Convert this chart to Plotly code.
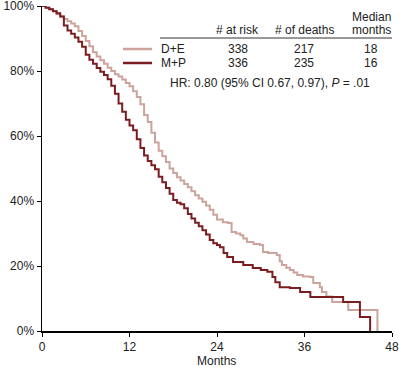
import plotly.graph_objects as go

# Kaplan-Meier style survival estimates
de_months = [0, 0.5, 1.0, 1.5, 2.0, 2.5, 3.0, 3.5, 4.0, 4.5, 5.0, 5.5, 6.0, 6.5, 7.0, 7.5,
             8.0, 8.5, 9.0, 9.5, 10.0, 10.5, 11.0, 11.5, 12.0, 12.5, 13.0, 13.5, 14.0,
             14.5, 15.0, 15.5, 16.0, 16.5, 17.0, 17.5, 18.0, 18.5, 19.0, 19.5, 20.0,
             20.5, 21.0, 21.5, 22.0, 22.5, 23.0, 23.5, 24.0, 24.8, 25.5, 26.0, 26.6,
             27.2, 27.6, 28.1, 29.0, 29.9, 30.3, 31.0, 32.2, 32.6, 32.9, 33.5, 34.0,
             34.5, 35.0, 35.8, 36.8, 37.2, 38.1, 38.4, 39.0, 39.8, 42.0, 46.0]
de_surv = [100, 99.5, 99.0, 98.5, 97.5, 96.8, 96.0, 95.3, 94.6, 93.8, 92.3, 90.8, 89.2,
           87.6, 85.8, 84.5, 83.3, 82.2, 81.0, 80.0, 79.0, 78.3, 77.4, 76.3, 75.3, 73.8,
           72.0, 69.8, 66.5, 64.3, 61.0, 58.0, 55.5, 53.8, 52.0, 50.0, 48.6, 47.3, 46.3,
           45.2, 44.2, 43.0, 41.8, 40.8, 39.8, 38.6, 37.3, 35.8, 34.3, 33.5, 33.2, 30.5,
           30.0, 29.5, 28.5, 27.4, 26.8, 26.5, 24.3, 24.0, 23.4, 21.5, 20.3, 19.5, 18.8,
           18.0, 17.2, 16.8, 16.6, 14.8, 13.5, 12.0, 10.6, 8.9, 6.5, 0]

mp_months = [0, 0.5, 1.0, 1.5, 2.0, 2.5, 3.0, 3.5, 4.0, 4.5, 5.0, 5.5, 6.0, 6.5, 7.0, 7.5,
             8.0, 8.5, 9.0, 9.5, 10.0, 10.5, 11.0, 11.5, 12.0, 12.5, 13.0, 13.5, 14.0,
             14.5, 15.0, 15.5, 16.0, 16.5, 17.0, 17.5, 18.0, 18.5, 19.0, 19.5, 20.0,
             20.5, 21.0, 21.5, 22.0, 22.5, 23.0, 23.5, 24.0, 24.4, 24.9, 25.4, 26.2,
             27.6, 28.9, 30.0, 30.9, 31.6, 32.0, 32.6, 34.0, 35.4, 36.8, 41.3, 43.6, 45.0]
mp_surv = [100, 99.5, 99.0, 98.4, 97.8, 96.8, 94.0, 92.5, 91.5, 90.3, 89.0, 87.5, 85.0,
           83.5, 82.2, 80.9, 79.8, 78.8, 77.5, 75.5, 73.0, 70.0, 67.5, 65.0, 63.2, 61.8,
           59.0, 56.3, 54.0, 52.3, 51.0, 49.8, 47.5, 45.8, 44.0, 42.2, 40.3, 39.5, 39.0,
           37.8, 36.0, 34.6, 33.3, 32.2, 31.0, 29.7, 28.0, 27.0, 26.5, 25.8, 24.0, 22.8,
           21.2, 20.3, 19.4, 18.8, 18.2, 16.6, 15.0, 13.5, 13.2, 12.0, 10.5, 8.9, 4.3, 0]

x_ticks = [0, 12, 24, 36, 48]
y_ticks = [0, 20, 40, 60, 80, 100]
y_tick_labels = ["0%", "20%", "40%", "60%", "80%", "100%"]

table_header = ["# at risk", "# of deaths"]
groups = ["D+E", "M+P"]
at_risk = ["338", "336"]
deaths = ["217", "235"]
median = ["18", "16"]
hr_text = "HR: 0.80 (95% CI 0.67, 0.97), <i>P</i> = .01"

LIGHT = "#cba49c"
DARK = "#7b1d20"
FONT = "Liberation Sans, Arial, sans-serif"
TXT = "#222222"

fig = go.Figure()
fig.add_trace(go.Scatter(x=de_months, y=de_surv, mode="lines", line_shape="hv",
                         line=dict(color=LIGHT, width=2), name="D+E", showlegend=False,
                         cliponaxis=False))
fig.add_trace(go.Scatter(x=mp_months, y=mp_surv, mode="lines", line_shape="hv",
                         line=dict(color=DARK, width=2), name="M+P", showlegend=False,
                         cliponaxis=False))

# pixel -> paper helpers for the inset table
def px(xp):
    return (xp - 42) / 350.0

def py(yp):
    return (331 - yp) / 325.0

ann = []
def add(text, xp, yp, xanchor="center"):
    ann.append(dict(text=text, x=px(xp), y=py(yp), xref="paper", yref="paper",
                    xanchor=xanchor, yanchor="middle", showarrow=False,
                    font=dict(family=FONT, size=12, color=TXT)))

add(table_header[0], 237, 30)
add(table_header[1], 304, 30)
add("Median", 371, 17)
add("months", 371, 30)
row_y = [49, 63]
for i in range(2):
    add(groups[i], 159, row_y[i], xanchor="left")
    add(at_risk[i], 238, row_y[i])
    add(deaths[i], 304, row_y[i])
    add(median[i], 371, row_y[i])
add(hr_text, 270, 83)
ann.append(dict(text="Months", x=px(216), y=py(361), xref="paper", yref="paper",
                xanchor="center", yanchor="middle", showarrow=False,
                font=dict(family=FONT, size=12, color=TXT)))

shapes = [
    dict(type="line", xref="paper", yref="paper", x0=px(160), x1=px(392), y0=py(38), y1=py(38),
         line=dict(color="#333333", width=1)),
    dict(type="line", xref="paper", yref="paper", x0=px(123), x1=px(152), y0=py(49), y1=py(49),
         line=dict(color=LIGHT, width=2.5)),
    dict(type="line", xref="paper", yref="paper", x0=px(123), x1=px(152), y0=py(63), y1=py(63),
         line=dict(color=DARK, width=2.5)),
]

fig.update_layout(
    width=399, height=371,
    margin=dict(l=42, r=7, t=6, b=40, autoexpand=False),
    paper_bgcolor="white", plot_bgcolor="white",
    font=dict(family=FONT, size=12, color=TXT),
    annotations=ann, shapes=shapes,
    xaxis=dict(range=[0, 48], tickvals=x_ticks, showgrid=False, zeroline=False,
               showline=True, linecolor="black", linewidth=1.5, ticks="outside",
               ticklen=4, tickcolor="black", tickwidth=1, automargin=False,
               ticklabeloverflow="allow"),
    yaxis=dict(range=[0, 100], tickvals=y_ticks, ticktext=y_tick_labels, showgrid=False,
               zeroline=False, showline=True, linecolor="black", linewidth=1.5,
               ticks="outside", ticklen=4, tickcolor="black", tickwidth=1, automargin=False,
               ticklabeloverflow="allow"),
)

fig.write_html("out.html", config={"displayModeBar": False, "staticPlot": True},
               post_script="document.body.style.margin='0';document.body.style.overflow='hidden';")
